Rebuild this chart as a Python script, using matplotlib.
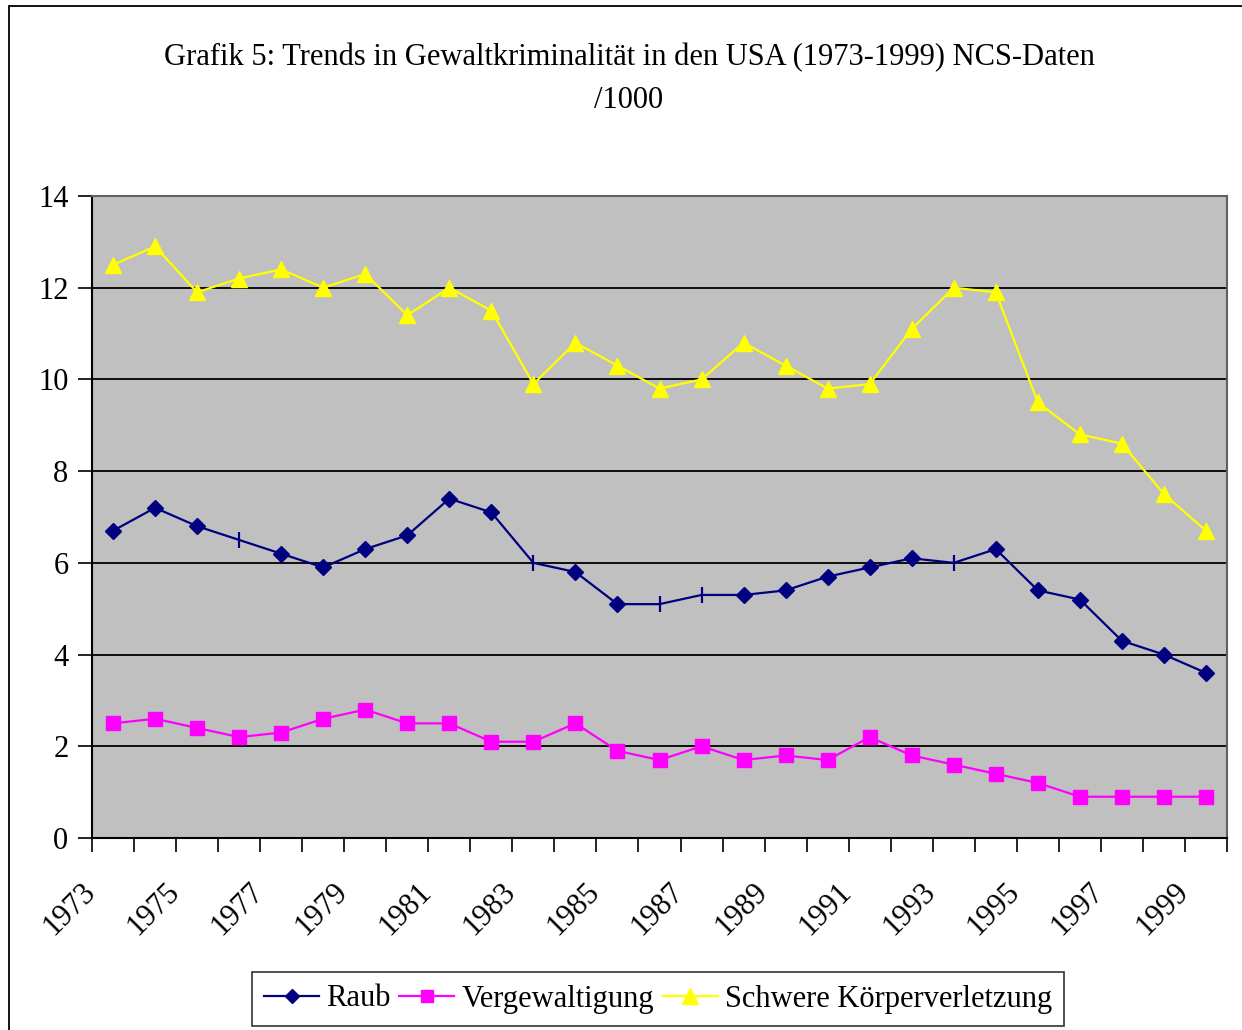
import numpy as np
import matplotlib
matplotlib.use("Agg")
import matplotlib.pyplot as plt
import matplotlib.transforms as mtransforms
from matplotlib.patches import Rectangle

# NCS data per 1000
years = list(range(1973, 2000))
raub = [6.7, 7.2, 6.8, 6.5, 6.2, 5.9, 6.3, 6.6, 7.4, 7.1, 6.0, 5.8, 5.1, 5.1,
        5.3, 5.3, 5.4, 5.7, 5.9, 6.1, 6.0, 6.3, 5.4, 5.2, 4.3, 4.0, 3.6]
vergewaltigung = [2.5, 2.6, 2.4, 2.2, 2.3, 2.6, 2.8, 2.5, 2.5, 2.1, 2.1, 2.5, 1.9, 1.7,
                  2.0, 1.7, 1.8, 1.7, 2.2, 1.8, 1.6, 1.4, 1.2, 0.9, 0.9, 0.9, 0.9]
koerperverletzung = [12.5, 12.9, 11.9, 12.2, 12.4, 12.0, 12.3, 11.4, 12.0, 11.5, 9.9, 10.8,
                     10.3, 9.8, 10.0, 10.8, 10.3, 9.8, 9.9, 11.1, 12.0, 11.9, 9.5, 8.8,
                     8.6, 7.5, 6.7]
labels = ["Raub", "Vergewaltigung", "Schwere Körperverletzung"]
title = "Grafik 5: Trends in Gewaltkriminalität in den USA (1973-1999) NCS-Daten\n/1000"

# in the original some Raub points show only a thin tick instead of a diamond
raub_tick_years = [1976, 1983, 1986, 1987, 1993]

plt.rcParams['font.family'] = ['Liberation Serif', 'DejaVu Serif']

W, H = 1242, 1030
fig = plt.figure(figsize=(W / 100, H / 100), dpi=100)
ax = fig.add_axes([92 / W, 1 - 838 / H, (1227 - 92) / W, (838 - 196) / H])
ax.set_facecolor("#C0C0C0")

x = np.arange(len(years)) + 0.5
tick_idx = [years.index(y) for y in raub_tick_years]
dia_idx = [i for i in range(len(years)) if i not in tick_idx]

ax.plot(x, raub, color="#000080", lw=1.6, marker="D", ms=8.5,
        markevery=dia_idx, zorder=3)
ax.plot(x[tick_idx], np.array(raub)[tick_idx], ls="none", marker="|", ms=12,
        mew=1.6, color="#000080", zorder=3)
ax.plot(x, vergewaltigung, color="#FF00FF", lw=1.6, marker="s", ms=10, zorder=3)
ax.plot(x, koerperverletzung, color="#FFFF00", lw=1.6, marker="^", ms=11.5, zorder=3)

# legend handles
h1, = ax.plot([], [], color="#000080", lw=1.6, marker="D", ms=7)
h2, = ax.plot([], [], color="#FF00FF", lw=1.6, marker="s", ms=9)
h3, = ax.plot([], [], color="#FFFF00", lw=1.6, marker="^", ms=11)

ax.set_xlim(0, len(years))
ax.set_ylim(0, 14)
ax.set_yticks(np.arange(0, 15, 2))
ax.yaxis.grid(True, color="black", lw=1.3)
ax.set_axisbelow(True)
ax.tick_params(axis="y", direction="out", length=10, width=1.2, labelsize=22, pad=7)

ax.set_xticks(np.arange(0, len(years) + 1))
ax.set_xticklabels([])
ax.tick_params(axis="x", which="major", direction="out", length=10, width=1.2)
ax.set_xticks(x[::2], minor=True)
ax.set_xticklabels([str(y) for y in years[::2]], minor=True, rotation=45,
                   ha="right", va="top", fontsize=22)
ax.tick_params(axis="x", which="minor", length=0, pad=28)
off = mtransforms.ScaledTranslation(-12 / 100, 0, fig.dpi_scale_trans)
for lab in ax.xaxis.get_minorticklabels():
    lab.set_transform(lab.get_transform() + off)

for s in ["left", "bottom"]:
    ax.spines[s].set_color("black")
    ax.spines[s].set_linewidth(1.5)
for s in ["top", "right"]:
    ax.spines[s].set_color("#606060")
    ax.spines[s].set_linewidth(1.5)

fig.text(629 / W, 1 - 79 / H, title, ha="center", va="center", fontsize=22,
         linespacing=1.65)

leg = fig.legend([h1, h2, h3], labels, loc="center", ncol=3,
                 bbox_to_anchor=(658 / W, 1 - 999 / H), fontsize=22,
                 frameon=True, fancybox=False, edgecolor="black",
                 handlelength=1.8, handletextpad=0.22, columnspacing=0.3,
                 borderpad=0.4)
leg.get_frame().set_linewidth(1.2)

fig.patches.append(Rectangle((9 / W, -0.1), 1.2, 1.1 - 6 / H, transform=fig.transFigure,
                             fill=False, edgecolor="black", lw=1.3))

fig.savefig("out.png", dpi=100)
